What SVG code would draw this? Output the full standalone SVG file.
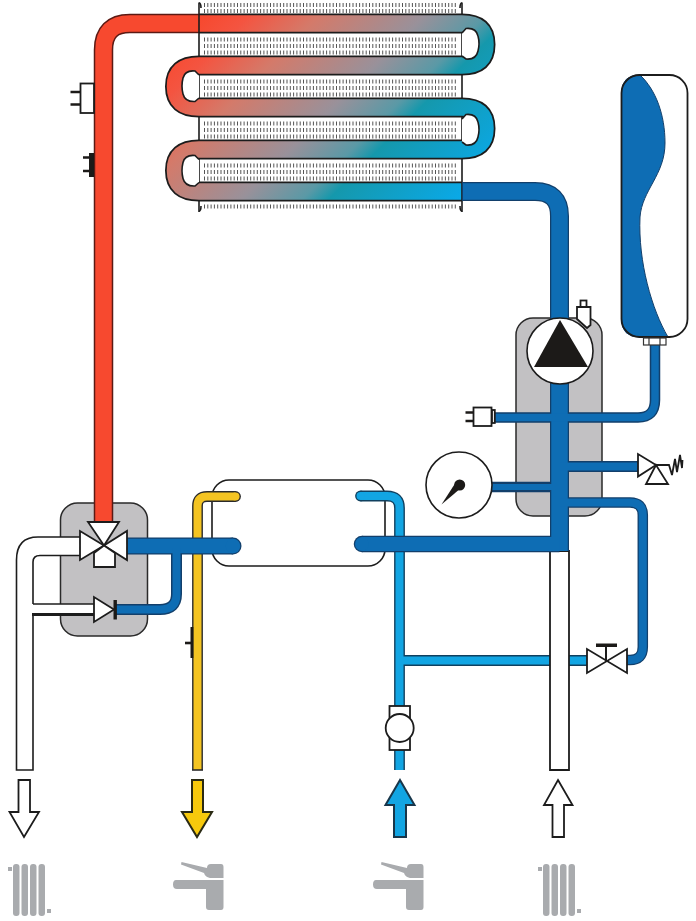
<svg xmlns="http://www.w3.org/2000/svg" width="696" height="921" viewBox="0 0 696 921">
<style>
.o{fill:none;stroke-linecap:butt;stroke-linejoin:round}
.line{fill:none;stroke:#1c1c1c;stroke-width:1.6}
.w{fill:#fff;stroke:#1c1c1c;stroke-width:1.8;stroke-linejoin:miter}
.k{fill:#1c1a18;stroke:none}
.kl{fill:none;stroke:#1c1a18;stroke-width:2.6}
.box{fill:#c2c1c3;stroke:#2a2a2a;stroke-width:1.5}
.g{fill:#a9abae;stroke:none}
.fin{fill:none;stroke:#555;stroke-width:4;stroke-dasharray:1 2.3}
.hole{fill:#fff;stroke:#1c1c1c;stroke-width:1.6}
.db{stroke:#123f6b}.dbf{stroke:#0e6db4}
.lb{stroke:#10405f}.lbf{stroke:#12a5e3}
</style>
<defs>
<linearGradient id="coil" gradientUnits="userSpaceOnUse" x1="110" y1="110" x2="330" y2="330">
<stop offset="0" stop-color="#f7492f"/>
<stop offset="0.1" stop-color="#f45440"/>
<stop offset="0.26" stop-color="#d47a6a"/>
<stop offset="0.5" stop-color="#99919a"/>
<stop offset="0.64" stop-color="#5a99a6"/>
<stop offset="0.7" stop-color="#1598ac"/>
<stop offset="1" stop-color="#0aa9e8"/>
</linearGradient>
<path id="holeR" d="M462,33L466,28.500Q476,27.500 478,36Q480,43.500 478,51Q476,60 466,59L462,56"/>
<path id="holeL" d="M199,75L195,71Q185,70 183,78Q181,86 183,94Q185,102 195,101.500L199,98"/>
</defs>

<g id="boiler-box-left"><rect class="box" x="60.500" y="503" width="87" height="133" rx="17"/></g>
<g id="pump-box"><rect class="box" x="516" y="318" width="86" height="198" rx="17"/></g>
<g id="plate-exchanger"><rect x="212" y="480" width="173" height="86" rx="17" fill="#fff" stroke="#1c1c1c" stroke-width="1.600"/></g>

<g id="heat-exchanger">
<path class="fin" d="M204,5H457M204,11H457M204,39.500H457M204,46H457M204,52.500H457M204,81.500H457M204,88H457M204,94.500H457M204,123.500H457M204,130H457M204,136.500H457M204,165.500H457M204,172H457M204,178.500H457M204,206.500H457"/>
<path class="line" d="M199,14V2.500M199,33V56M199,75V98M199,117V140M199,159V182M199,201V212"/>
<path class="line" d="M462,14V2.500M462,33V56M462,75V98M462,117V140M462,159V182M462,201V212"/>
<path class="line" d="M199,3C201,3 201,5 201,8M462,3C460,3 460,5 460,8M199,211C201,211 201,209 201,206M462,211C460,211 460,209 460,206" stroke-width="1.200"/>
</g>

<g id="connectors">
<!-- yellow hot water -->
<path class="o" stroke="#2a2a2a" stroke-width="10.800" d="M197.500,770V506Q197.500,496.500 207,496.500H235.500"/>
<circle cx="235.500" cy="496.500" r="5.400" fill="#2a2a2a"/>
<path class="o" stroke="#f4c422" stroke-width="8" d="M197.500,770V506Q197.500,496.500 207,496.500H235.500"/>
<circle cx="235.500" cy="496.500" r="4" fill="#f4c422"/>
<path d="M192,770h11" stroke="#2a2a2a" stroke-width="1.600"/>

<!-- light blue cold water -->
<path class="o lb" stroke-width="10.800" d="M360.500,496H387Q399.500,496 399.500,508V770"/>
<path class="o lb" stroke-width="11" d="M399.500,660.500H587"/>
<circle cx="360.500" cy="496" r="5.400" fill="#10405f"/>
<path class="o lbf" stroke-width="8" d="M360.500,496H387Q399.500,496 399.500,508V770"/>
<path class="o lbf" stroke-width="8" d="M399.500,660.500H587"/>
<circle cx="360.500" cy="496" r="4" fill="#12a5e3"/>

<!-- white return and branch -->
<path d="M33,614V555.500Q33,555.500 38,555H80V537H38Q16.500,537 16.500,560V770H33V614H94V604H33" fill="#fff" stroke="none"/>
<path class="line" stroke-width="1.800" d="M80,537H38Q16.500,537 16.500,560V770H33V615M33,604V562Q33,555.500 40,555.500H80"/>
<path d="M33,604H94" fill="none" stroke="#1c1c1c" stroke-width="1.600"/>
<path d="M32,614.500H94" fill="none" stroke="#1c1c1c" stroke-width="2.800"/>

<!-- red flow -->
<path class="o" stroke="#5b1a14" stroke-width="19.500" d="M103.500,522V50Q103.500,23.500 130,23.500H199"/>
<path class="o" stroke="#f7492f" stroke-width="16.500" d="M103.500,522V50Q103.500,23.500 130,23.500H199"/>

<!-- coil -->
<path class="o" stroke="#1c1c1c" stroke-width="20" d="M199,23.500H462C478,23.500 485.500,30 485.500,44.500C485.500,59 478,65.500 462,65.500H199C183,65.500 175,72 175,86.500C175,101 183,107.500 199,107.500H462C478,107.500 485.500,114 485.500,128.500C485.500,143 478,149.500 462,149.500H199C183,149.500 175,156 175,170.500C175,185 183,191.500 199,191.500H462"/>
<path class="o" stroke="url(#coil)" stroke-width="16.500" d="M199,23.500H462C478,23.500 485.500,30 485.500,44.500C485.500,59 478,65.500 462,65.500H199C183,65.500 175,72 175,86.500C175,101 183,107.500 199,107.500H462C478,107.500 485.500,114 485.500,128.500C485.500,143 478,149.500 462,149.500H199C183,149.500 175,156 175,170.500C175,185 183,191.500 199,191.500H462"/>
<use href="#holeR" class="hole"/>
<use href="#holeR" class="hole" y="86"/>
<use href="#holeL" class="hole"/>
<use href="#holeL" class="hole" y="84.500"/>
<path class="line" d="M199,14V33M462,182V201"/>

<!-- white cold return -->
<path class="w" d="M550,551H569V770H550Z"/>

<!-- dark blue system -->
<g class="o db">
<path stroke-width="19" d="M462,191.500H535Q559.500,191.500 559.500,216V551"/>
<path stroke-width="16.500" d="M362,544H559.500"/>
<path stroke-width="10.500" d="M492,417.500H638Q655,417.500 655,400V345"/>
<path stroke-width="10.500" d="M492,487H555"/>
<path stroke-width="11" d="M560,466.500H638"/>
<path stroke-width="10.500" d="M560,502.500H630Q642.800,502.500 642.800,515V647Q642.800,660 630,660H627"/>
<path stroke-width="17" d="M127,546H233"/>
<path stroke-width="11" d="M176.500,548V594Q176.500,609.500 160,609.500H115"/>
</g>
<circle cx="362" cy="544" r="8.250" fill="#123f6b"/>
<circle cx="233" cy="546" r="8.500" fill="#123f6b"/>
<g class="o dbf">
<path stroke-width="16.500" d="M463,191.500H535Q559.500,191.500 559.500,216V551"/>
<path stroke-width="14" d="M362,544H559.500"/>
<path stroke-width="7.500" d="M492,417.500H638Q655,417.500 655,400V345"/>
<path stroke-width="6" d="M492,487H555"/>
<path stroke-width="8" d="M560,466.500H638"/>
<path stroke-width="8" d="M560,502.500H630Q642.800,502.500 642.800,515V647Q642.800,660 630,660H627"/>
<path stroke-width="14.500" d="M127,546H233"/>
<path stroke-width="8" d="M176.500,548V594Q176.500,609.500 160,609.500H115"/>
</g>
<circle cx="362" cy="544" r="7" fill="#0e6db4"/>
<circle cx="233" cy="546" r="7.250" fill="#0e6db4"/>
</g>

<g id="three-way-valve">
<path class="w" d="M104,545.500L88,522H119Z"/>
<path class="w" d="M104,545.500L80,531V560Z"/>
<path class="w" d="M104,545.500L127,531V560Z"/>
<path class="w" d="M104,545.500L94,553V567H115V553Z"/>
</g>
<g id="check-valve">
<path class="w" d="M94,597V622L114,609.500Z"/>
<rect class="k" x="113.500" y="600" width="3.400" height="19.500"/>
</g>
<g id="pump">
<circle cx="560" cy="351" r="33" fill="#fff" stroke="#1c1c1c" stroke-width="1.600"/>
<path class="k" d="M560,320L588,367H534Z"/>
</g>
<g id="air-vent">
<rect class="w" x="580.500" y="300.500" width="6" height="6.500"/>
<path class="w" d="M577,307H590.500V325L587,328L577,319Z"/>
</g>
<g id="expansion-vessel">
<rect x="621.500" y="75" width="66" height="262" rx="18" fill="#fff"/>
<path d="M640,75C656,90 665,115 665,143C665,175 642,190 640,217C638,262 652,310 668,337H639.500Q621.500,337 621.500,319V93Q621.500,75 640,75Z" fill="#0e6db4" stroke="#123f6b" stroke-width="1"/>
<rect x="621.500" y="75" width="66" height="262" rx="18" fill="none" stroke="#1c1c1c" stroke-width="1.800"/>
<rect x="643.500" y="338" width="22.500" height="7" fill="#fff" stroke="#333" stroke-width="1.200"/>
<path d="M649,338v7M660,338v7" stroke="#333" stroke-width="1.200"/>
</g>
<g id="plug-pump">
<rect class="w" x="473.500" y="407.500" width="18" height="18.500"/>
<rect class="w" x="492" y="410" width="2.800" height="13"/>
<path class="kl" d="M465.500,412.500H473.500M465.500,421H473.500"/>
</g>
<g id="gauge">
<circle cx="459" cy="485" r="33" fill="#fff" stroke="#1c1c1c" stroke-width="1.600"/>
<circle class="k" cx="459.700" cy="485" r="5.500"/>
<path class="k" d="M456,482L441.500,504.500L461,488Z"/>
</g>
<g id="safety-valve">
<path class="w" d="M638,454V476.500L656,465Z"/>
<path class="w" d="M656,465L646,484H668Z"/>
<path fill="none" stroke="#1c1c1c" stroke-width="1.800" d="M656,465H669L672,475L675,459L677,472L680,455L682,468L682.500,460"/>
</g>
<g id="shutoff-valve">
<path class="w" d="M587,649V673L627,649V673Z"/>
<path fill="none" stroke="#1c1c1c" stroke-width="2" d="M606,645V661"/>
<path class="k" d="M596,643.500H617V647H596Z"/>
</g>
<g id="flow-meter">
<rect class="w" x="389.500" y="706" width="20.500" height="44"/>
<circle cx="399.700" cy="728" r="14" fill="#fff" stroke="#1c1c1c" stroke-width="1.800"/>
</g>
<g id="sensor-1">
<rect class="w" x="80.500" y="83.500" width="13.500" height="29.500" stroke-width="2"/>
<path class="kl" d="M70.500,92H80M70.500,104.500H80"/>
</g>
<g id="sensor-2">
<rect class="k" x="89" y="153" width="5" height="24"/>
<path class="kl" d="M83,157.500H89M83,171H89"/>
</g>
<g id="sensor-3">
<rect class="k" x="190.500" y="627" width="2.800" height="31"/>
<path class="kl" d="M185,643H191"/>
</g>

<g id="arrow-heating-out"><path class="w" stroke-width="2" d="M18.500,780H30V812H39L24,837L9.500,812H18.500Z"/></g>
<g id="arrow-hot-water"><path fill="#f7c90c" stroke="#2a2a14" stroke-width="2" d="M192,780H203V812H212L197,837L182,812H192Z"/></g>
<g id="arrow-cold-water"><path fill="#12a5e3" stroke="#18364a" stroke-width="2" d="M400,780L414.500,805H406V837H394V805H385.500Z"/></g>
<g id="arrow-heating-in"><path class="w" stroke-width="2" d="M558,780L572.500,805H564V837H552.500V805H544Z"/></g>

<g id="radiator-left">
<rect class="g" x="13" y="864" width="6.500" height="52" rx="3"/><rect class="g" x="21.500" y="864" width="6.500" height="52" rx="3"/><rect class="g" x="30" y="864" width="6.500" height="52" rx="3"/><rect class="g" x="38.500" y="864" width="6.500" height="52" rx="3"/>
<rect class="g" x="8" y="867" width="4" height="4"/><rect class="g" x="47" y="909" width="4" height="4"/>
</g>
<g id="radiator-right">
<rect class="g" x="543" y="864" width="6.500" height="52" rx="3"/><rect class="g" x="551.500" y="864" width="6.500" height="52" rx="3"/><rect class="g" x="560" y="864" width="6.500" height="52" rx="3"/><rect class="g" x="568.500" y="864" width="6.500" height="52" rx="3"/>
<rect class="g" x="538" y="867" width="4" height="4"/><rect class="g" x="577" y="909" width="4" height="4"/>
</g>
<g id="tap-left">
<path class="g" d="M207,868Q207,864 211,864H221Q223.500,864 223.500,867V878H210Q205,877 204,873L181,864.500L181.500,862Z"/>
<path class="g" d="M176,880H223.500V907Q223.500,910 221,910H209Q206,910 206,907V889H177Q173,889 173,884.500Q173,880 176,880Z"/>
</g>
<g id="tap-right">
<path class="g" d="M407,868Q407,864 411,864H421Q423.500,864 423.500,867V878H410Q405,877 404,873L381,864.500L381.500,862Z"/>
<path class="g" d="M376,880H423.500V907Q423.500,910 421,910H409Q406,910 406,907V889H377Q373,889 373,884.500Q373,880 376,880Z"/>
</g>
</svg>
